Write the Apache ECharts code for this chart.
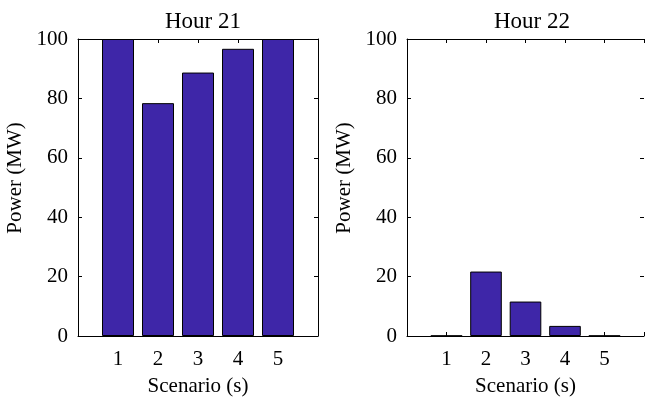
<!DOCTYPE html>
<html>
<head>
<meta charset="utf-8">
<script src="https://cdn.jsdelivr.net/npm/echarts@6/dist/echarts.min.js"></script>
<style>
  html, body { margin: 0; padding: 0; background: #fff; overflow: hidden; }
  #chart { width: 647px; height: 402px; }
</style>
</head>
<body>
<div id="chart"></div>
<script>
// Dispatched power per scenario for two consecutive hours
const scenarios = [1, 2, 3, 4, 5];
const hour21 = [100, 78.4, 88.7, 96.7, 100];
const hour22 = [0.1, 21.7, 11.6, 3.4, 0.1];
const titles = ['Hour 21', 'Hour 22'];
const yTicks = [0, 20, 40, 60, 80, 100];

const FONT = 'Liberation Serif';
const BAR_COLOR = '#3e26a8';

const chart = echarts.init(document.getElementById('chart'), null, { renderer: 'canvas' });

// the second panel's right edge sits past the canvas edge, so its right spine is not drawn
const panels = [
  { left: 78, width: 240, values: hour21, title: titles[0], rightSpine: true },
  { left: 407, width: 240, values: hour22, title: titles[1], rightSpine: false }
];
const PH = 298, TOP = 39;

const grid = [], xAxis = [], yAxis = [], series = [], title = [], graphic = [];

panels.forEach((p, i) => {
  grid.push({ left: p.left, top: TOP, width: p.width, height: PH });
  const xBase = {
    type: 'value', min: 0, max: 6, interval: 1, gridIndex: i,
    splitLine: { show: false },
    axisLine: { show: true, onZero: false, lineStyle: { color: '#000', width: 1 } },
    axisTick: { show: true, inside: true, length: 4, lineStyle: { color: '#000' } }
  };
  xAxis.push(Object.assign({}, xBase, {
    position: 'bottom',
    axisLabel: {
      color: '#000', fontFamily: FONT, fontSize: 21, margin: 13,
      formatter: v => (scenarios.indexOf(v) >= 0 ? String(v) : '')
    },
    name: 'Scenario (s)', nameLocation: 'middle', nameGap: 40,
    nameTextStyle: { color: '#000', fontFamily: FONT, fontSize: 21 }
  }));
  xAxis.push(Object.assign({}, xBase, {
    position: 'top', axisLabel: { show: false }
  }));
  const yBase = {
    type: 'value', min: 0, max: 100, interval: 20, gridIndex: i,
    splitLine: { show: false },
    axisLine: { show: true, onZero: false, lineStyle: { color: '#000', width: 1 } },
    axisTick: { show: true, inside: true, length: 4, lineStyle: { color: '#000' } }
  };
  yAxis.push(Object.assign({}, yBase, {
    position: 'left',
    axisLabel: {
      color: '#000', fontFamily: FONT, fontSize: 21, margin: 10,
      formatter: v => (yTicks.indexOf(v) >= 0 ? String(v) : '')
    }
  }));
  yAxis.push(Object.assign({}, yBase, {
    position: 'right', axisLabel: { show: false },
    axisLine: { show: p.rightSpine, onZero: false, lineStyle: { color: '#000', width: 1 } }
  }));
  series.push({
    type: 'bar',
    xAxisIndex: i * 2, yAxisIndex: i * 2,
    data: scenarios.map((s, k) => [s, p.values[k]]),
    barWidth: '80%',
    itemStyle: { color: BAR_COLOR, borderColor: '#000', borderWidth: 1 },
    silent: true
  });
  title.push({
    text: p.title, left: p.left + 120, top: 5, textAlign: 'center',
    textStyle: { color: '#000', fontFamily: FONT, fontSize: 23, fontWeight: 'normal' }
  });
  graphic.push({
    type: 'text',
    x: p.left - 63, y: 178, rotation: Math.PI / 2,
    style: {
      text: 'Power (MW)', fill: '#000', font: '21px "' + FONT + '"',
      textAlign: 'center', textVerticalAlign: 'middle'
    }
  });
});

chart.setOption({
  animation: false,
  backgroundColor: '#fff',
  title, grid, xAxis, yAxis, series, graphic
});
</script>
</body>
</html>
